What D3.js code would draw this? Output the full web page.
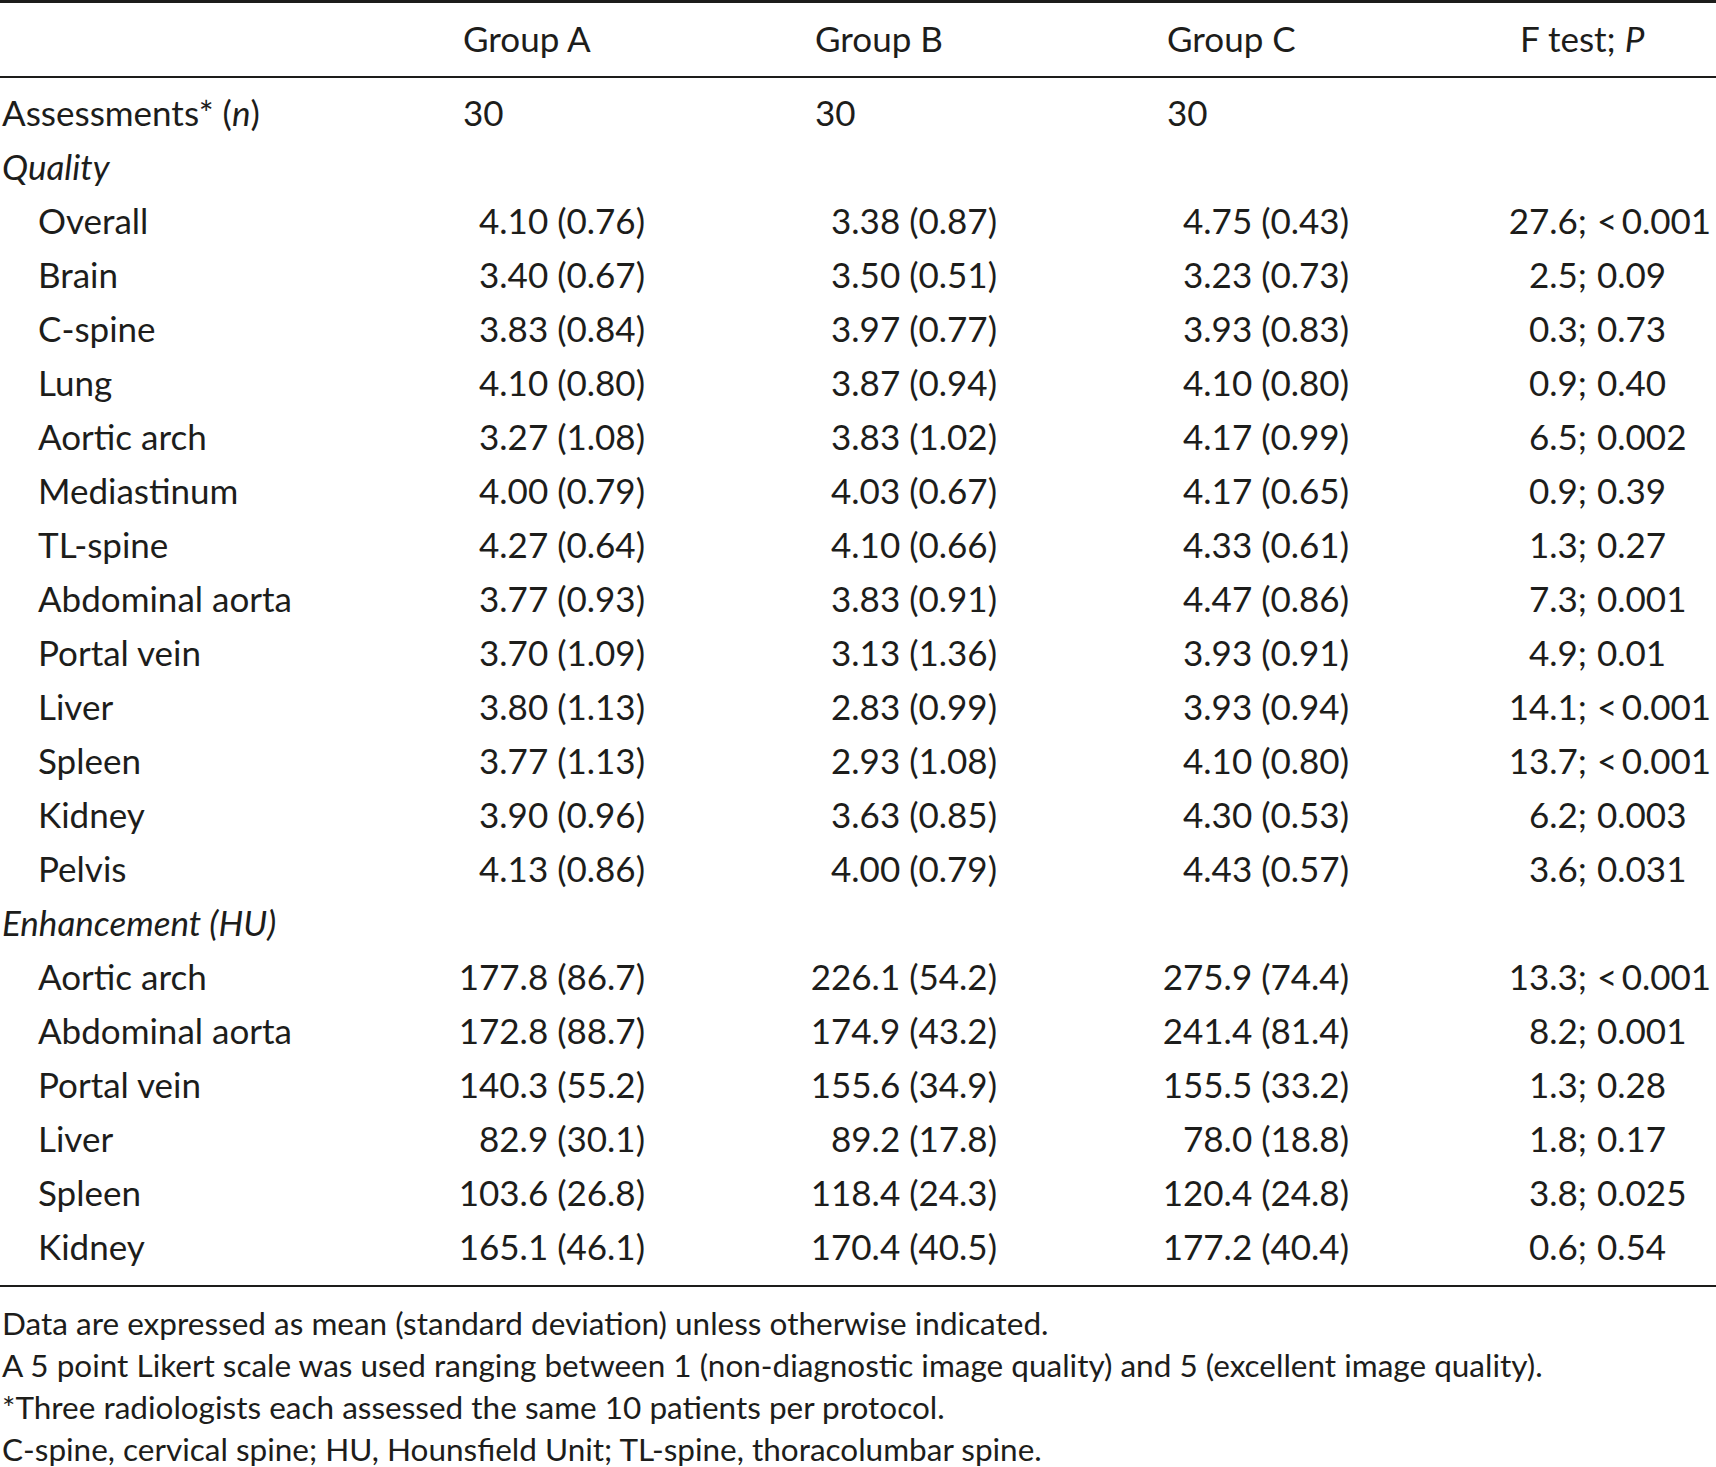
<!DOCTYPE html>
<html>
<head>
<meta charset="utf-8">
<script src="https://cdn.jsdelivr.net/npm/d3@7"></script>
<style>
  html, body { margin: 0; padding: 0; background: #fff; }
  svg { display: block; }
  text { font-family: Lato, "Open Sans", sans-serif; fill: #1d1d1b; }
</style>
</head>
<body>
<div id="chart"></div>
<script>
// column headers
const groups = ['Group A', 'Group B', 'Group C'];
const assessments = [30, 30, 30];

// image quality (Likert 1-5), mean and SD
const qualityLabels = ['Overall', 'Brain', 'C-spine', 'Lung', 'Aortic arch', 'Mediastinum', 'TL-spine',
  'Abdominal aorta', 'Portal vein', 'Liver', 'Spleen', 'Kidney', 'Pelvis'];
const qualityA = [4.10, 3.40, 3.83, 4.10, 3.27, 4.00, 4.27, 3.77, 3.70, 3.80, 3.77, 3.90, 4.13];
const qualityASd = [0.76, 0.67, 0.84, 0.80, 1.08, 0.79, 0.64, 0.93, 1.09, 1.13, 1.13, 0.96, 0.86];
const qualityB = [3.38, 3.50, 3.97, 3.87, 3.83, 4.03, 4.10, 3.83, 3.13, 2.83, 2.93, 3.63, 4.00];
const qualityBSd = [0.87, 0.51, 0.77, 0.94, 1.02, 0.67, 0.66, 0.91, 1.36, 0.99, 1.08, 0.85, 0.79];
const qualityC = [4.75, 3.23, 3.93, 4.10, 4.17, 4.17, 4.33, 4.47, 3.93, 3.93, 4.10, 4.30, 4.43];
const qualityCSd = [0.43, 0.73, 0.83, 0.80, 0.99, 0.65, 0.61, 0.86, 0.91, 0.94, 0.80, 0.53, 0.57];
const qualityF = [27.6, 2.5, 0.3, 0.9, 6.5, 0.9, 1.3, 7.3, 4.9, 14.1, 13.7, 6.2, 3.6];
const qualityP = ['<0.001', '0.09', '0.73', '0.40', '0.002', '0.39', '0.27', '0.001', '0.01', '<0.001', '<0.001', '0.003', '0.031'];

// enhancement (HU), mean and SD
const huLabels = ['Aortic arch', 'Abdominal aorta', 'Portal vein', 'Liver', 'Spleen', 'Kidney'];
const huA = [177.8, 172.8, 140.3, 82.9, 103.6, 165.1];
const huASd = [86.7, 88.7, 55.2, 30.1, 26.8, 46.1];
const huB = [226.1, 174.9, 155.6, 89.2, 118.4, 170.4];
const huBSd = [54.2, 43.2, 34.9, 17.8, 24.3, 40.5];
const huC = [275.9, 241.4, 155.5, 78.0, 120.4, 177.2];
const huCSd = [74.4, 81.4, 33.2, 18.8, 24.8, 40.4];
const huF = [13.3, 8.2, 1.3, 1.8, 3.8, 0.6];
const huP = ['<0.001', '0.001', '0.28', '0.17', '0.025', '0.54'];

const footnotes = [
  'Data are expressed as mean (standard deviation) unless otherwise indicated.',
  'A 5 point Likert scale was used ranging between 1 (non-diagnostic image quality) and 5 (excellent image quality).',
  '*Three radiologists each assessed the same 10 patients per protocol.',
  'C-spine, cervical spine; HU, Hounsfield Unit; TL-spine, thoracolumbar spine.'
];

const width = 1716, height = 1467;
const fontSize = 35;

const svg = d3.select('#chart').append('svg')
  .attr('width', width)
  .attr('height', height);

// build row list
const rows = [];
rows.push({ type: 'n' });
rows.push({ type: 'section', label: 'Quality' });
qualityLabels.forEach((l, i) => rows.push({
  type: 'data', label: l,
  cells: [[qualityA[i], qualityASd[i]], [qualityB[i], qualityBSd[i]], [qualityC[i], qualityCSd[i]]],
  digits: 2, f: qualityF[i], p: qualityP[i]
}));
rows.push({ type: 'section', label: 'Enhancement (HU)' });
huLabels.forEach((l, i) => rows.push({
  type: 'data', label: l,
  cells: [[huA[i], huASd[i]], [huB[i], huBSd[i]], [huC[i], huCSd[i]]],
  digits: 1, f: huF[i], p: huP[i]
}));

// row baselines
const y = d3.scaleLinear().domain([0, rows.length - 1]).range([126, 126 + 54 * (rows.length - 1)]);
// column positions: header/left start and right edge of values
const colStart = d3.scaleOrdinal().domain(groups).range([463, 815, 1167]);
const colEnd = d3.scaleOrdinal().domain(groups).range([645, 997, 1349]);
const fStart = 1520, fSemi = 1587;

// rules
const lastY = y(rows.length - 1);
svg.append('line').attr('x1', 0).attr('x2', width).attr('y1', 1.5).attr('y2', 1.5)
  .attr('stroke', '#1d1d1b').attr('stroke-width', 3);
svg.append('line').attr('x1', 0).attr('x2', width).attr('y1', 77).attr('y2', 77)
  .attr('stroke', '#1d1d1b').attr('stroke-width', 2);
svg.append('line').attr('x1', 0).attr('x2', width).attr('y1', lastY + 26).attr('y2', lastY + 26)
  .attr('stroke', '#1d1d1b').attr('stroke-width', 2);

// header
const header = svg.append('g').attr('font-size', fontSize);
groups.forEach(g => header.append('text').attr('x', colStart(g)).attr('y', 52).text(g));
const ft = header.append('text').attr('x', fStart).attr('y', 52);
ft.append('tspan').text('F test; ');
ft.append('tspan').attr('font-style', 'italic').text('P');

// body
const body = svg.append('g').attr('font-size', fontSize);
rows.forEach((r, i) => {
  const yy = y(i);
  if (r.type === 'n') {
    const t = body.append('text').attr('x', 2).attr('y', yy);
    t.append('tspan').text('Assessments* (');
    t.append('tspan').attr('font-style', 'italic').text('n');
    t.append('tspan').text(')');
    groups.forEach((g, j) => body.append('text').attr('x', colStart(g)).attr('y', yy).text(assessments[j]));
  } else if (r.type === 'section') {
    body.append('text').attr('x', 2).attr('y', yy).attr('font-style', 'italic').text(r.label);
  } else {
    body.append('text').attr('x', 38).attr('y', yy).text(r.label);
    groups.forEach((g, j) => {
      const [m, sd] = r.cells[j];
      body.append('text').attr('x', colEnd(g)).attr('y', yy).attr('text-anchor', 'end')
        .text(`${m.toFixed(r.digits)} (${sd.toFixed(r.digits)})`);
    });
    body.append('text').attr('x', fSemi).attr('y', yy).attr('text-anchor', 'end')
      .text(`${r.f.toFixed(1)};`);
    body.append('text').attr('x', fSemi + 10).attr('y', yy)
      .text(r.p.replace('<', '<\u2009'));
  }
});

// footnotes
const notes = svg.append('g').attr('font-size', 31.5);
footnotes.forEach((f, i) => notes.append('text').attr('x', 2).attr('y', lastY + 75 + i * 42).text(f));
</script>
</body>
</html>
